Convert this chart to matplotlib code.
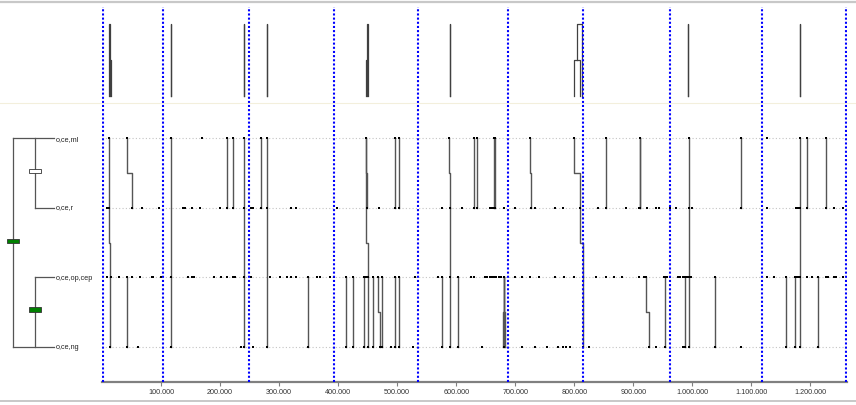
import matplotlib
matplotlib.use("Agg")
import matplotlib.pyplot as plt
from matplotlib.patches import Rectangle
from matplotlib.ticker import FuncFormatter

plt.rcParams['font.family'] = ['Liberation Sans', 'DejaVu Sans']

# leaf names of the tree, top to bottom (row 0..3)
leaves = ["o,ce,ml", "o,ce,r", "o,ce,op,cep", "o,ce,ng"]

# site positions (bp) with a mark on each row
ml_sites = [12000, 42000, 117000, 170000, 211000, 222500, 240500, 270000, 279500,
            448000, 496000, 503500, 588000, 629500, 635500, 664000, 666500, 725000,
            799500, 853000, 912000, 994000, 1083000, 1126000, 1182500, 1194500, 1226500]
r_sites = [8500, 12000, 51500, 67500, 96000, 137500, 141000, 153000, 165500, 200000,
           211000, 222500, 240500, 252000, 255000, 270000, 279500, 321000, 328500,
           397500, 449000, 470000, 496000, 503500, 576000, 589000, 609000, 629500,
           635500, 657000, 660500, 664000, 666500, 681000, 699000, 726000, 734000,
           768000, 781000, 809000, 841000, 853000, 887000, 909500, 912000, 923000,
           939000, 943000, 961500, 972500, 994000, 999000, 1083000, 1126000, 1176000,
           1179500, 1182500, 1194500, 1226500, 1240500, 1254500]
op_sites = [8000, 15500, 28500, 43000, 51500, 64500, 84500, 87000, 100000, 117000,
            146000, 152000, 156500, 190000, 201000, 211000, 222500, 225000, 240500,
            252000, 284500, 301500, 313000, 321000, 328500, 349500, 364500, 369000,
            386000, 393500, 413000, 425000, 444000, 447000, 451000, 459000, 467500,
            475000, 496000, 503500, 530000, 569500, 576000, 589000, 603000, 624500,
            629500, 648500, 652000, 657000, 660500, 664000, 668000, 672500, 676500,
            681000, 699000, 712000, 724500, 740000, 768000, 782000, 799500, 814500,
            836000, 853000, 867000, 880500, 910500, 917500, 922000, 951500, 954500,
            957000, 961500, 976500, 979500, 984000, 987000, 989500, 992500, 994000,
            997000, 1039000, 1126000, 1137500, 1159000, 1174500, 1177500, 1179500,
            1182500, 1194500, 1202000, 1212500, 1226500, 1230500, 1240500, 1243500,
            1256000]
ng_sites = [13500, 43000, 61500, 117000, 236000, 240500, 256000, 279500, 349500,
            413000, 425000, 444000, 451000, 459000, 471000, 475000, 489000, 496000,
            503500, 526000, 576000, 589000, 603000, 644000, 681000, 711500, 734000,
            754000, 772500, 781000, 786500, 792000, 814500, 825000, 926000, 939000,
            954500, 984000, 987000, 994000, 1039000, 1083000, 1159000, 1174500,
            1182500, 1212500]

# connections: (pos on upper row, pos on lower row, upper row, lower row)
links = [
    (12000, 13500, 0, 3), (42000, 51500, 0, 1), (43000, 43000, 2, 3),
    (117000, 117000, 0, 3), (211000, 211000, 0, 1), (222500, 222500, 0, 1),
    (240500, 240500, 0, 3), (270000, 270000, 0, 1), (279500, 279500, 0, 3),
    (349500, 349500, 2, 3), (413000, 413000, 2, 3), (425000, 425000, 2, 3),
    (444000, 444000, 2, 3), (448000, 449000, 0, 1), (448000, 451000, 0, 3),
    (459000, 459000, 2, 3), (467500, 471000, 2, 3), (475000, 475000, 2, 3),
    (496000, 496000, 0, 1), (503500, 503500, 0, 1), (496000, 496000, 2, 3),
    (503500, 503500, 2, 3), (576000, 576000, 2, 3), (588000, 589000, 0, 1),
    (589000, 589000, 1, 3), (603000, 603000, 2, 3), (629500, 629500, 0, 1),
    (635500, 635500, 0, 1), (664000, 664000, 0, 1), (666500, 666500, 0, 1),
    (681000, 679500, 2, 3), (681000, 681000, 2, 3), (681000, 683000, 2, 3),
    (725000, 726000, 0, 1), (799500, 809000, 0, 1), (809000, 814500, 1, 2),
    (814500, 814500, 2, 3), (853000, 853000, 0, 1), (911000, 912000, 0, 1),
    (912000, 912000, 0, 1), (922000, 926000, 2, 3), (954500, 954500, 2, 3),
    (987000, 987000, 2, 3), (994000, 994000, 0, 3), (1039000, 1039000, 2, 3),
    (1083000, 1083000, 0, 1), (1159000, 1159000, 2, 3), (1174500, 1174500, 2, 3),
    (1182500, 1182500, 0, 3), (1194500, 1194500, 0, 1), (1212500, 1212500, 2, 3),
    (1226500, 1226500, 0, 1),
]

# breakpoint clusters in the top strip: (left, right, height, left base, right base)
top_bars = [
    (11500, 13500, 1.0, 0.0, 0.5), (13000, 15500, 0.5, 0.0, 0.0),
    (117000, 117000, 1.0, 0.0, 0.0), (240500, 240500, 1.0, 0.0, 0.0),
    (279000, 279000, 1.0, 0.0, 0.0),
    (448000, 449500, 0.5, 0.0, 0.0), (448750, 450500, 1.0, 0.5, 0.0),
    (589000, 589000, 1.0, 0.0, 0.0),
    (799500, 809000, 0.5, 0.0, 0.0), (804250, 813000, 1.0, 0.5, 0.0),
    (993500, 993500, 1.0, 0.0, 0.0), (1182500, 1182500, 1.0, 0.0, 0.0),
]

# contig boundaries (blue dotted)
boundaries = [1500, 103900, 249400, 393300, 535400, 687700, 814700, 961400,
              1117600, 1261000]

xticks = [100000, 200000, 300000, 400000, 500000, 600000, 700000, 800000,
          900000, 1000000, 1100000, 1200000]
genome_end = 1262000

W, H = 856, 406
fig = plt.figure(figsize=(W / 100, H / 100), dpi=100)

def box(left, top, right, bottom):
    return [left / W, 1 - bottom / H, (right - left) / W, (bottom - top) / H]

ax_top = fig.add_axes(box(102, 8, 847, 104))
ax = fig.add_axes(box(102, 104, 847, 383))
ax_tree = fig.add_axes(box(0, 104, 102, 383), sharey=ax)

# frame lines of the window
fig.add_artist(plt.Line2D([0, 1], [1 - 3 / H] * 2, color='#c8c8c8', lw=1.6))
fig.add_artist(plt.Line2D([0, 1], [1 - 104 / H] * 2, color='#f3efdc', lw=0.8))
fig.add_artist(plt.Line2D([0, 1], [1 - 402 / H] * 2, color='#c8c8c8', lw=1.4))

blue = dict(color='#0000ff', lw=1.5, linestyle=(0, (1, 1)), zorder=5)

# top strip
for xl, xr, h, bl, br in top_bars:
    ax_top.plot([xl, xl, xr, xr], [bl, h, h, br], color='#404040', lw=0.9)
for b in boundaries:
    ax_top.axvline(b, **blue)
ax_top.set_xlim(0, genome_end)
ax_top.set_ylim(-0.097, 1.236)
ax_top.axis('off')

# main panel
rows = [ml_sites, r_sites, op_sites, ng_sites]
for i in range(len(leaves)):
    ax.axhline(i, color='#c4c4c4', lw=0.8, linestyle=(0, (1, 2)), zorder=1)
for x1, x2, a, b in links:
    ym = (a + b) / 2
    ax.plot([x1, x1, x2, x2], [a, ym, ym, b], color='#555555', lw=1.0, zorder=2)
for i, sites in enumerate(rows):
    ax.plot(sites, [i] * len(sites), 's', color='black', ms=1.9, mew=0, zorder=3)
for b in boundaries:
    ax.axvline(b, **blue)

ax.set_xlim(0, genome_end)
ax.set_ylim(3.506, -0.508)
for s in ['top', 'right', 'left']:
    ax.spines[s].set_visible(False)
ax.spines['bottom'].set_color('#808080')
ax.spines['bottom'].set_linewidth(1.6)
ax.set_yticks([])
ax.set_xticks(xticks)
ax.xaxis.set_major_formatter(FuncFormatter(lambda v, p: f"{int(v):,}".replace(',', '.')))
ax.tick_params(axis='x', length=3, width=0.8, color='#808080', labelsize=5.2,
               labelcolor='#333333', pad=1.5)

# tree on the left
root_x, clade_x, leaf_x = 0.125, 0.343, 0.53
tree_kw = dict(color='#555555', lw=0.9)
ax_tree.plot([root_x, root_x], [0, 3], **tree_kw)
ax_tree.plot([clade_x, clade_x], [0, 1], **tree_kw)
ax_tree.plot([clade_x, clade_x], [2, 3], **tree_kw)
ax_tree.plot([root_x, leaf_x], [0, 0], **tree_kw)
ax_tree.plot([root_x, leaf_x], [3, 3], **tree_kw)
ax_tree.plot([clade_x, leaf_x], [1, 1], **tree_kw)
ax_tree.plot([clade_x, leaf_x], [2, 2], **tree_kw)
for i, name in enumerate(leaves):
    ax_tree.text(leaf_x + 0.012, i, name, fontsize=5.2, va='center', ha='left',
                 color='#222222')

bw, bh = 0.118, 0.065
for cx, cy, fc in [(clade_x, 0.47, 'white'), (root_x, 1.48, '#008000'),
                   (clade_x, 2.46, '#008000')]:
    ax_tree.add_patch(Rectangle((cx - bw / 2, cy - bh / 2), bw, bh, facecolor=fc,
                                edgecolor='#333333', lw=0.6, zorder=3))
ax_tree.set_xlim(0, 1)
ax_tree.axis('off')

fig.savefig('out.png', dpi=100)
